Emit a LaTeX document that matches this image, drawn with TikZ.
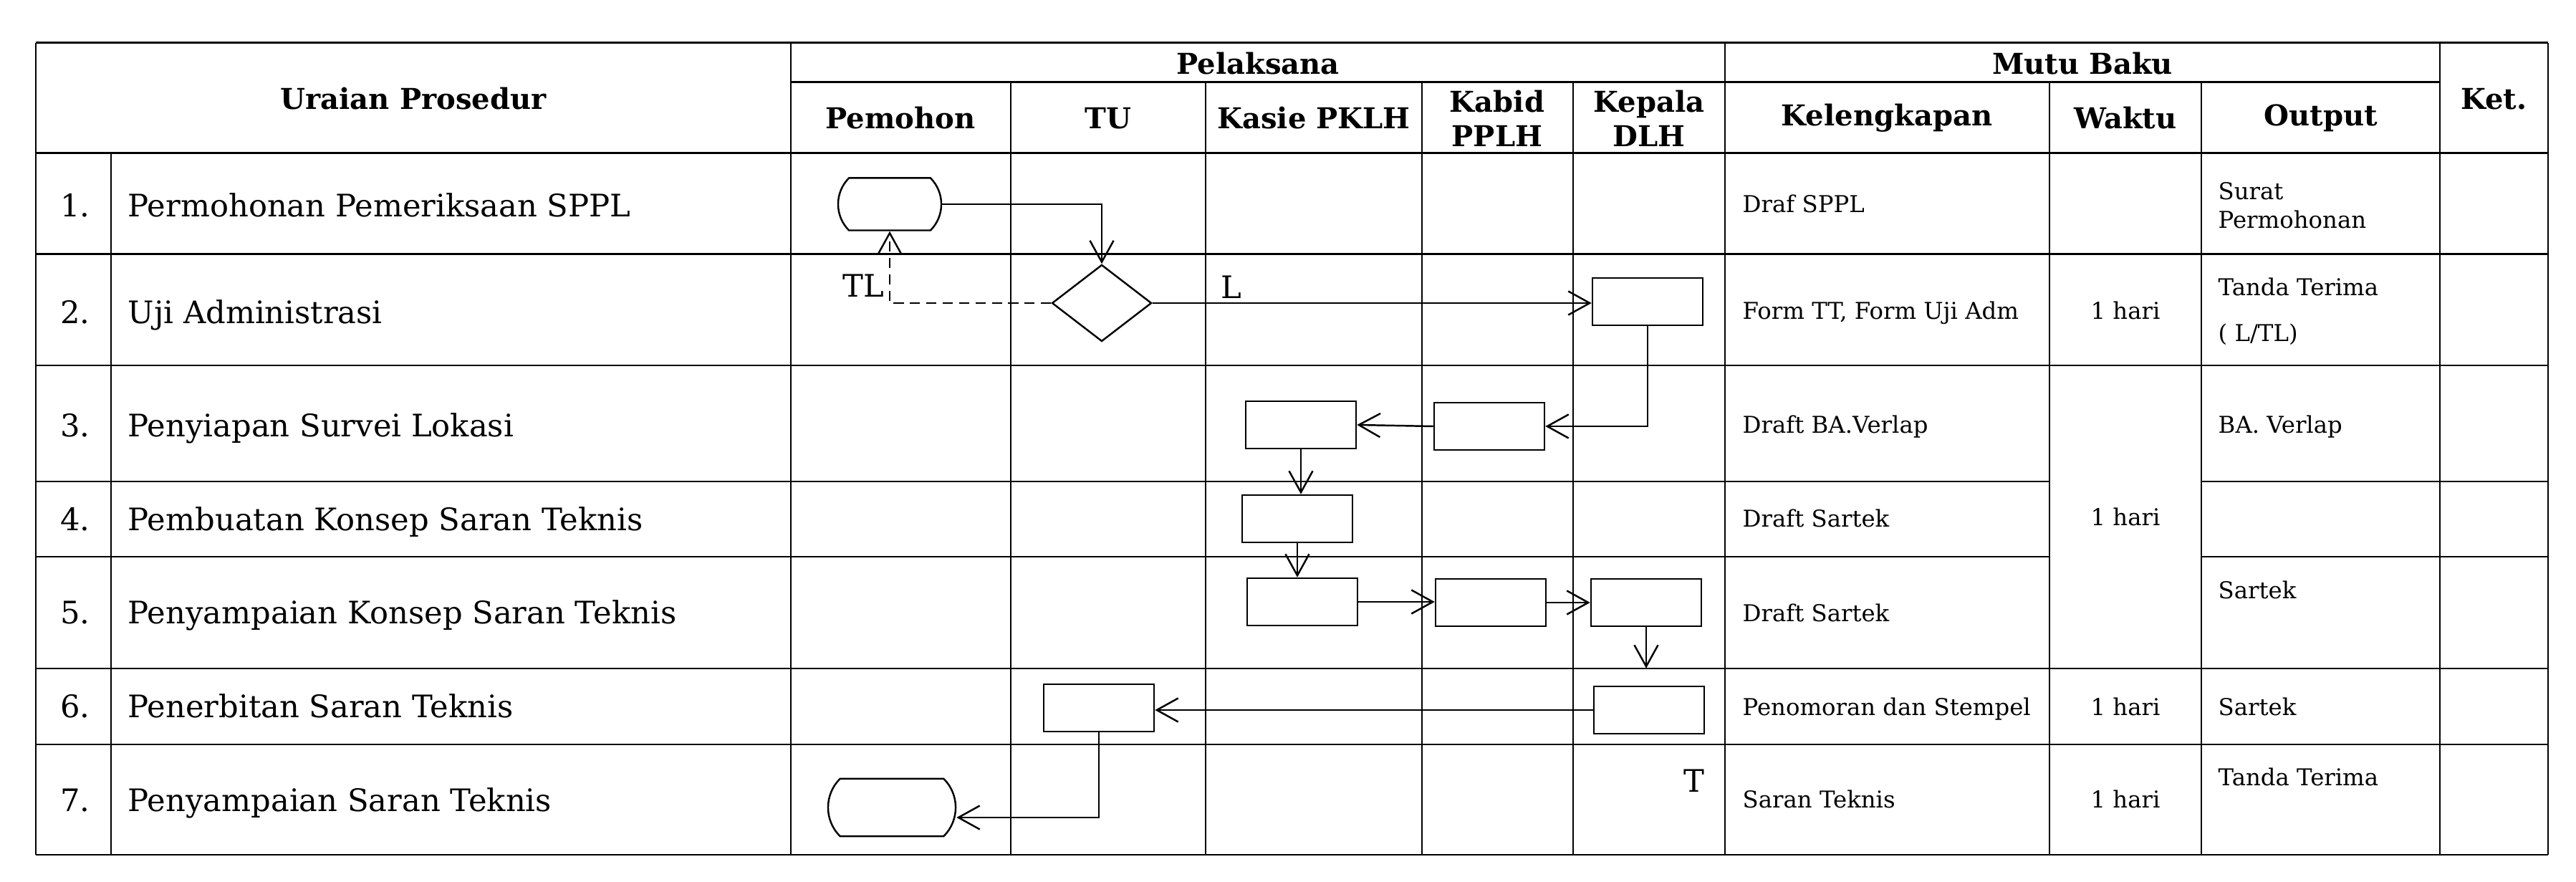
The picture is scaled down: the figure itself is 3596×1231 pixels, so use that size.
\documentclass[tikz,border=0pt]{standalone}
\usepackage{fontspec}
\setmainfont{DejaVu Serif}
\usetikzlibrary{arrows.meta,shapes.geometric,shapes.misc}
\begin{document}
\begin{tikzpicture}[x=0.01cm,y=-0.01cm,
  hline/.style={line width=0.85pt},
  vline/.style={line width=0.55pt},
  head/.style={font=\fontsize{11.4}{13.6}\selectfont\bfseries,align=center,inner sep=0},
  txt/.style={font=\fontsize{12.3}{15}\selectfont,inner sep=0,text height=9pt,text depth=0pt},
  small/.style={font=\fontsize{9.2}{11.3}\selectfont,inner sep=0,text height=6.7pt,text depth=0pt},
  smalls/.style={font=\fontsize{9.2}{11.3}\selectfont,inner sep=0,align=left,anchor=west},
  proc/.style={draw,line width=0.7pt,minimum width=1.54cm,minimum height=0.66cm,inner sep=0},
  term/.style={draw,line width=0.7pt,rounded rectangle,rounded rectangle arc length=90,inner sep=0},
  dec/.style={draw,line width=0.7pt,diamond,minimum width=1.39cm,minimum height=1.07cm,inner sep=0},
  arr/.style={line width=0.7pt,-{Straight Barb[length=8.5pt,width=9.4pt]}}]
\useasboundingbox (0,0) rectangle (3596,1231);
\foreach \y in {60,214,355,510,933,1039,1193} \draw[hline] (50,\y) -- (3557,\y);
\draw[hline] (1104,115) -- (3406,115);
\foreach \y in {672,777} \draw[hline] (50,\y) -- (2861,\y) (3073,\y) -- (3557,\y);
\foreach \x in {50,1104,2408,3406,3557} \draw[vline] (\x,60) -- (\x,1193);
\draw[vline] (155,214) -- (155,1193);
\foreach \x in {1411,1683,1985,2196,2861,3073} \draw[vline] (\x,115) -- (\x,1193);
\node[head] (hur) at (577,138) {Uraian Prosedur};
\node[head] (hpel) at (1756,89) {Pelaksana};
\node[head] (hmutu) at (2907,89) {Mutu Baku};
\node[head] (hket) at (3481,138) {Ket.};
\foreach \x/\t [count=\i] in {1257/Pemohon,1547/TU,1834/Kasie PKLH,2090/Kabid\\PPLH,2302/Kepala\\DLH,2634/Kelengkapan,2967/Waktu,3240/Output}
  \node[head] (hc\i) at (\x,165) {\t};
\foreach \y/\t [count=\i] in {287/Permohonan Pemeriksaan SPPL,436/Uji Administrasi,594/Penyiapan Survei Lokasi,725/Pembuatan Konsep Saran Teknis,855/Penyampaian Konsep Saran Teknis,986/Penerbitan Saran Teknis,1117/Penyampaian Saran Teknis}{
  \node[txt] (no\i) at (105,\y) {\i.};
  \node[txt,anchor=west] (ur\i) at (178,\y) {\t};
}
\foreach \y/\t [count=\i] in {285/Draf SPPL,434/{Form TT, Form Uji Adm},593/Draft BA.Verlap,724/Draft Sartek,856/Draft Sartek,987/Penomoran dan Stempel,1116/Saran Teknis}
  \node[small,anchor=west] (kl\i) at (2432,\y) {\t};
\foreach \y [count=\i] in {434,722,987,1116}
  \node[small] (wk\i) at (2967,\y) {1 hari};
\node[smalls] (op1) at (3096,287) {Surat\\Permohonan};
\node[smalls] (op2) at (3096,435) {Tanda Terima\\[7pt]( L/TL)};
\node[small,anchor=west] (op3) at (3096,593) {BA. Verlap};
\node[small,anchor=west] (op5) at (3096,824) {Sartek};
\node[small,anchor=west] (op6) at (3096,987) {Sartek};
\node[small,anchor=west] (op7) at (3096,1085) {Tanda Terima};
\node[term,minimum width=1.44cm,minimum height=0.73cm] (t1) at (1242,285) {};
\node[dec] (d2) at (1538,423) {};
\node[proc] (k2) at (2300,421) {};
\node[proc] (b3) at (2079,595) {};
\node[proc] (s3) at (1816,593) {};
\node[proc] (s4) at (1811,724) {};
\node[proc] (s5) at (1818,840) {};
\node[proc] (b5) at (2081,841) {};
\node[proc] (k5) at (2298,841) {};
\node[proc] (k6) at (2302,991) {};
\node[proc] (u6) at (1534,988) {};
\node[term,minimum width=1.78cm,minimum height=0.80cm] (t7) at (1245,1127) {};
\draw[arr] (t1.east) -| (d2.north);
\draw[arr,dash pattern=on 4pt off 2.5pt] (d2.west) -| node[txt,above left,inner sep=2pt] {TL} (t1.south);
\draw[arr] (d2.east) -- node[txt,pos=0.18,above,inner sep=1.5pt] {L} (d2.east -| k2.west);
\draw[arr] (k2.south) |- (b3.east);
\draw[arr] (b3.west) -- (s3.east);
\draw[arr] (s3.south) -- (s3.south |- s4.north);
\draw[arr] (s4.south) -- (s4.south |- s5.north);
\draw[arr] (s5.east) -- (s5.east -| b5.west);
\draw[arr] (b5.east) -- (b5.east -| k5.west);
\draw[arr,shorten >=0.24cm] (k5.south) -- (k5.south |- k6.north);
\draw[arr] (k6.west) -- (k6.west -| u6.east);
\draw[arr] (u6.south) |- ([yshift=-0.14cm]t7.east);
\node[txt] (lt) at (2365,1090) {T};
\end{tikzpicture}
\end{document}
